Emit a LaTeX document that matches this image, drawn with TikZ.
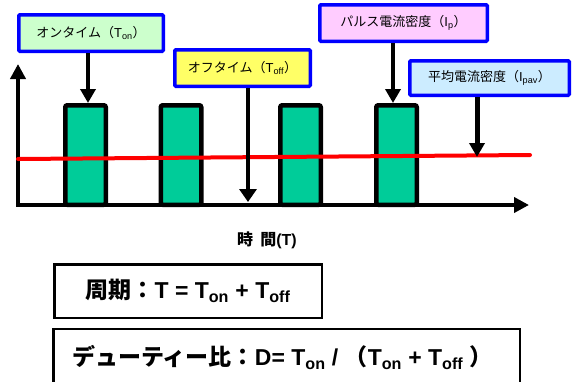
\documentclass[tikz,border=0pt]{standalone}
\usepackage{fontspec}
\setmainfont{Liberation Sans}
\newfontfamily\jp{Noto Sans CJK JP}
\usetikzlibrary{arrows.meta}
\newcommand\jt[1]{{\jp #1}}
\newcommand\sbs[1]{\textsubscript{#1}}
\definecolor{onfill}{HTML}{CCFFCC}
\definecolor{offfill}{HTML}{FFFF66}
\definecolor{pulsefill}{HTML}{FFCCFF}
\definecolor{avgfill}{HTML}{CCECFF}
\definecolor{pulsecol}{HTML}{00CC99}
\definecolor{bordblue}{HTML}{0000FF}
\begin{document}
\begin{tikzpicture}[x=1pt,y=-1pt,
  lbl/.style={draw=bordblue, line width=3.5pt, rounded corners=1pt, inner sep=0pt,
    font=\fontsize{13}{15}\selectfont, minimum height=36.5pt},
  pulse/.style={draw=black, line width=4.5pt, fill=pulsecol, rounded corners=2pt,
    inner sep=0pt, minimum width=40.5pt, minimum height=99.5pt},
  downarr/.style={line width=4.5pt, -{Triangle[width=15pt,length=14pt]}},
  fbox/.style={draw=black, line width=2.5pt, inner sep=0pt, font=\fontsize{23}{27}\selectfont\bfseries}
]
\useasboundingbox (0,0) rectangle (573,381);

% axes
\coordinate (O) at (18,205);
\coordinate (ytip) at (18,64);
\coordinate (xtip) at (529,205);
\draw[line width=4.5pt, line join=miter,
  {Triangle[width=15pt,length=15pt]}-{Triangle[width=15pt,length=15pt]}] (ytip) -- (O) -- (xtip);

% pulses
\node[pulse] (p1) at (85.5,155) {};
\node[pulse] (p2) at (181,155) {};
\node[pulse] (p3) at (300.5,155) {};
\node[pulse] (p4) at (396.5,155) {};

% average line
\coordinate (r1) at (18,159);
\coordinate (r2) at (530,155);
\draw[red, line width=4pt, line cap=round] (r1) -- (r2);

% label boxes
\node[lbl, fill=onfill, minimum width=144.5pt] (onbox) at (91,33)
  {\jt{オンタイム（}T\sbs{on}\jt{）}};
\node[lbl, fill=offfill, minimum width=135.5pt] (offbox) at (242.5,68)
  {\jt{オフタイム（}T\sbs{off}\jt{）}};
\node[lbl, fill=pulsefill, minimum width=167.5pt] (pulsebox) at (403.5,23)
  {\jt{パルス電流密度（}I\sbs{p}\jt{）}};
\node[lbl, fill=avgfill, minimum width=159.5pt, minimum height=34.5pt] (avgbox) at (489.5,78)
  {\jt{平均電流密度（}I\sbs{pav}\jt{）}};

% arrows
\coordinate (t1) at (88,103);
\coordinate (t2) at (248,202);
\coordinate (t3) at (393,103);
\coordinate (t4) at (477,157);
\draw[downarr] (t1 |- onbox.south) -- (t1);
\draw[line width=3.5pt, -{Triangle[width=17pt,length=13pt]}] (t2 |- offbox.south) -- (t2);
\draw[downarr] (t3 |- pulsebox.south) -- (t3);
\draw[downarr, line width=5pt] (t4 |- avgbox.south) -- (t4);

% time label
\node[font=\fontsize{16}{19}\selectfont\bfseries] (tlabel) at (267,240)
  {\jt{時}\hspace{0.45em}\jt{間}(T)};

% formula boxes
\node[fbox, minimum width=267.5pt, minimum height=53.5pt] (f1) at (188,291)
  {\jt{周期：}T = T\sbs{on} + T\sbs{off}};
\node[fbox, minimum width=466.5pt, minimum height=57pt] (f2) at (286.5,357.5)
  {\hspace{-8pt}\jt{デューティー比：}D= T\sbs{on} / \jt{（}T\sbs{on} + T\sbs{off} \jt{）}};
\end{tikzpicture}
\end{document}
